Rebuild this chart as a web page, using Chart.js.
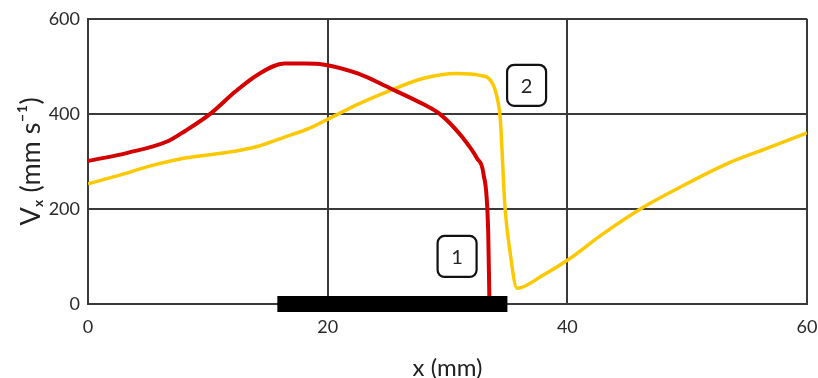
<!DOCTYPE html>
<html>
<head>
<meta charset="utf-8">
<script src="https://cdn.jsdelivr.net/npm/chart.js@4/dist/chart.umd.min.js"></script>
<style>
  html, body { margin: 0; padding: 0; background: #fff; }
  #wrap { width: 818px; height: 378px; }
</style>
</head>
<body>
<div id="wrap"><canvas id="vxChart"></canvas></div>
<script>
// Curve 1 (red)
const redX = [0, 3.3, 6.7, 8.1, 10.2, 12.3, 14.2, 16.4, 18.1, 19.6, 22.5, 25.2, 28, 29.4, 31.3, 32.5, 33.0, 33.4, 33.5];
const redV = [301, 318, 343, 364, 400, 447, 483, 506, 506, 504, 485, 454, 420, 399, 349, 305, 274, 148, 0];

// Curve 2 (yellow)
const yelX = [0, 2.5, 5.3, 8.1, 11.4, 14.2, 16.4, 18.5, 20.2, 22.5, 25.2, 28, 30.8, 32.7, 33.8, 34.2, 34.4, 34.8, 35.2, 35.8, 38, 40, 43, 46.3, 49.2, 53.3, 56.7, 60];
const yelV = [253, 270, 291, 307, 318, 332, 351, 370, 391, 420, 449, 475, 485, 481, 462, 427, 391, 203, 113, 33, 61, 92, 148, 203, 243, 295, 328, 360];

// black bar on the x axis
const barX = [15.8, 35.0];
const barV = [0, 0];

// numbered boxes
const boxText = ['1', '2'];
const boxX = [30.8, 36.6];
const boxV = [100, 460];

const xTicks = [0, 20, 40, 60];
const yTicks = [0, 200, 400, 600];

const toPoints = (xs, ys) => xs.map((x, i) => ({ x: x, y: ys[i] }));

// draws the rounded boxes with the curve numbers
const boxLabels = {
    id: 'boxLabels',
    afterDatasetsDraw(chart) {
        const { ctx, scales } = chart;
        ctx.save();
        boxText.forEach((t, i) => {
            const cx = scales.x.getPixelForValue(boxX[i]);
            const cy = scales.y.getPixelForValue(boxV[i]);
            const w = 39, h = 41;
            ctx.beginPath();
            ctx.roundRect(cx - w / 2, cy - h / 2, w, h, 7);
            ctx.fillStyle = '#fff';
            ctx.fill();
            ctx.lineWidth = 2.2;
            ctx.strokeStyle = '#111';
            ctx.stroke();
            ctx.fillStyle = '#222';
            ctx.font = '20px Lato';
            ctx.textAlign = 'center';
            ctx.textBaseline = 'middle';
            ctx.fillText(t, cx, cy + 1);
        });
        ctx.restore();
    }
};

const gridColor = '#3a3a3a';

new Chart(document.getElementById('vxChart'), {
    type: 'line',
    data: {
        datasets: [
            {
                data: toPoints(barX, barV),
                borderColor: '#000',
                borderWidth: 16,
                borderCapStyle: 'butt',
                pointRadius: 0,
                clip: false
            },
            {
                data: toPoints(redX, redV),
                borderColor: '#d40000',
                borderWidth: 4,
                pointRadius: 0,
                cubicInterpolationMode: 'monotone'
            },
            {
                data: toPoints(yelX, yelV),
                borderColor: '#fcc800',
                borderWidth: 3.5,
                pointRadius: 0,
                cubicInterpolationMode: 'monotone'
            }
        ]
    },
    options: {
        responsive: true,
        maintainAspectRatio: false,
        animation: false,
        layout: { padding: { left: 0, right: 11, top: 17, bottom: 0 } },
        plugins: {
            legend: { display: false },
            tooltip: { enabled: false }
        },
        scales: {
            x: {
                type: 'linear',
                min: 0,
                max: 60,
                afterBuildTicks: s => { s.ticks = xTicks.map(v => ({ value: v })); },
                afterFit: s => { s.height = 74; s.paddingLeft = 0; s.paddingRight = 0; },
                grid: { color: gridColor, lineWidth: 2, drawTicks: false },
                border: { display: true, color: gridColor, width: 2 },
                ticks: { padding: 12, color: '#2a2a2a', font: { family: 'Lato', size: 18 } },
                title: {
                    display: true,
                    text: 'x (mm)',
                    color: '#222',
                    font: { family: 'Lato', size: 24, lineHeight: 1 },
                    padding: { top: 0, bottom: -2 }
                }
            },
            y: {
                min: 0,
                max: 600,
                afterBuildTicks: s => { s.ticks = yTicks.map(v => ({ value: v })); },
                afterFit: s => { s.width = 88; },
                grid: { color: gridColor, lineWidth: 2, drawTicks: false },
                border: { display: true, color: gridColor, width: 2 },
                ticks: { padding: 8, color: '#2a2a2a', font: { family: 'Lato', size: 18 } },
                title: {
                    display: true,
                    text: 'Vₓ (mm s⁻¹)',
                    color: '#222',
                    font: { family: 'Lato', size: 27, lineHeight: 1.2 },
                    padding: { top: 15, bottom: 0 }
                }
            }
        }
    },
    plugins: [boxLabels]
});
</script>
</body>
</html>
